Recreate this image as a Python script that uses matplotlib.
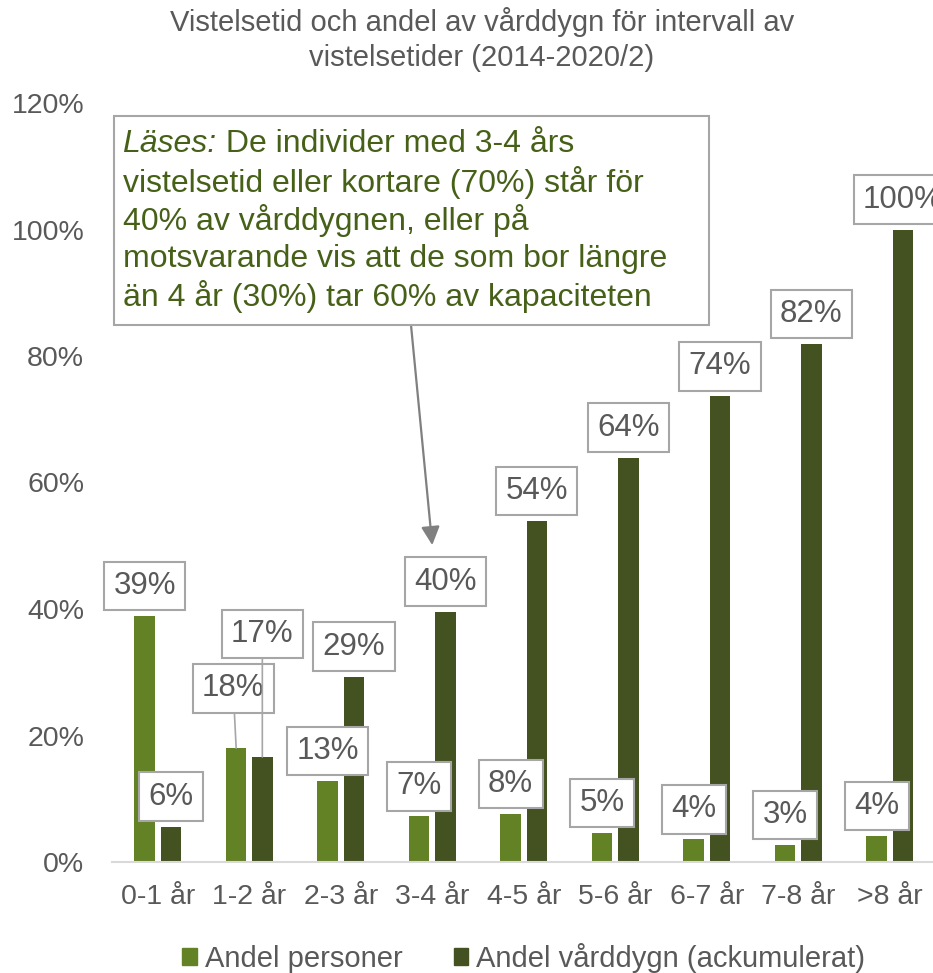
import numpy as np
import matplotlib
matplotlib.use("Agg")
import matplotlib.pyplot as plt
from matplotlib.patches import Rectangle, Patch

plt.rcParams["font.family"] = ["Liberation Sans", "DejaVu Sans"]

# Data
categories = ["0-1 år", "1-2 år", "2-3 år", "3-4 år", "4-5 år",
              "5-6 år", "6-7 år", "7-8 år", ">8 år"]
andel_personer = [38.9, 18.0, 12.8, 7.2, 7.6, 4.6, 3.6, 2.7, 4.1]
andel_varddygn = [5.6, 16.6, 29.3, 39.6, 53.9, 63.9, 73.6, 81.9, 100.0]
series_names = ["Andel personer", "Andel vårddygn (ackumulerat)"]
yticks = [0, 20, 40, 60, 80, 100, 120]

title_lines = ["Vistelsetid och andel av vårddygn för intervall av",
               "vistelsetider (2014-2020/2)"]
note_first = "Läses:"
note_lines = [" De individer med 3-4 års",
              "vistelsetid eller kortare (70%) står för",
              "40% av vårddygnen, eller på",
              "motsvarande vis att de som bor längre",
              "än 4 år (30%) tar 60% av kapaciteten"]

# Styles
light_c = "#638125"
dark_c = "#435220"
grey_txt = "#595959"
box_ec = "#a6a6a6"
note_c = "#466018"
W, H = 933, 973
PX = 0.72  # points per pixel at dpi 100

fig = plt.figure(figsize=(W / 100, H / 100), dpi=100)
ax = fig.add_axes([112 / W, 111 / H, 823.5 / W, 759 / H])

x = np.arange(len(categories))
bw = 0.223
off = 0.143
ax.bar(x - off, andel_personer, width=bw, color=light_c)
ax.bar(x + off, andel_varddygn, width=bw, color=dark_c)

ax.set_xlim(-0.5, len(categories) - 0.5)
ax.set_ylim(0, 120)
ax.set_yticks(yticks)
ax.set_yticklabels([f"{v}%" for v in yticks])
ax.set_xticks(x)
ax.set_xticklabels(categories)
ax.tick_params(axis="y", length=0, pad=20, labelsize=20.5, labelcolor=grey_txt)
ax.tick_params(axis="x", length=0, pad=16, labelsize=20.5, labelcolor=grey_txt)
for s in ["top", "right", "left"]:
    ax.spines[s].set_visible(False)
ax.spines["bottom"].set_color("#d9d9d9")
ax.spines["bottom"].set_linewidth(1.5)

# data labels (offsets in pixels; special ones moved with leader lines)
label_shift = {("p", 1): (-3, 60), ("d", 1): (0, 123)}
bbox = dict(boxstyle="square,pad=0.3", fc="white", ec=box_ec, lw=1.5)
for key, vals, sign in [("p", andel_personer, -1), ("d", andel_varddygn, 1)]:
    for i, v in enumerate(vals):
        dx, dy = label_shift.get((key, i), (0, 30))
        arrow = None
        if (key, i) in label_shift:
            arrow = dict(arrowstyle="-", color=box_ec, lw=1.2, shrinkA=0, shrinkB=0)
        ax.annotate(f"{v:.0f}%", xy=(i + sign * off, v), xytext=(dx * PX, dy * PX),
                    textcoords="offset points", ha="center", va="center",
                    fontsize=22.5, color=grey_txt, bbox=bbox, arrowprops=arrow,
                    annotation_clip=False)

# title
fig.text(482 / W, 1 - 22 / H, title_lines[0], ha="center", va="center",
         fontsize=21, color=grey_txt)
fig.text(482 / W, 1 - 58 / H, title_lines[1], ha="center", va="center",
         fontsize=21, color=grey_txt)

# explanatory box with arrow
ax.add_patch(Rectangle((114 / W, 1 - 325 / H), 595 / W, 209 / H,
                       transform=fig.transFigure, fc="white", ec=box_ec, lw=1.5,
                       clip_on=False, zorder=5))
t0 = ax.annotate(note_first, xy=(122.5 / W, 1 - 144 / H), xycoords="figure fraction",
                 ha="left", va="center", fontsize=23, color=note_c, style="italic",
                 zorder=6)
ax.annotate(note_lines[0], xy=(1, 0.5), xycoords=t0, ha="left", va="center",
            fontsize=23, color=note_c, zorder=6)
for j, line in enumerate(note_lines[1:], start=1):
    ax.annotate(line, xy=(122.5 / W, 1 - (144 + j * 38.2) / H), xycoords="figure fraction",
                ha="left", va="center", fontsize=23, color=note_c, zorder=6)
ax.annotate("", xy=(3, andel_varddygn[3] + 10.5), xytext=(411 / W, 1 - 325 / H),
            textcoords="figure fraction",
            arrowprops=dict(arrowstyle="-|>", color="#808080", lw=1.6,
                            mutation_scale=28, shrinkA=0, shrinkB=0))

# legend
handles = [Patch(color=light_c), Patch(color=dark_c)]
fig.legend(handles, series_names, loc="center", bbox_to_anchor=(523.7 / W, 1 - 958 / H),
           ncol=2, frameon=False, fontsize=21, labelcolor=grey_txt,
           handlelength=0.5, handleheight=0.5, handletextpad=0.27, columnspacing=1.75)

fig.savefig("out.png", dpi=100)
